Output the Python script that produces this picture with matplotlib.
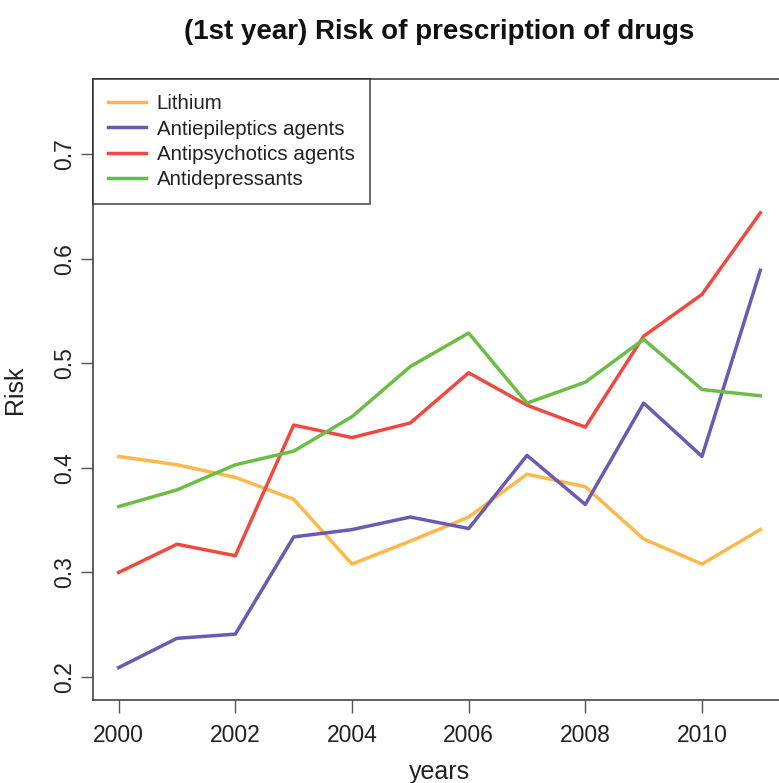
import matplotlib
matplotlib.use("Agg")
import matplotlib.pyplot as plt
import numpy as np

years = list(range(2000, 2012))
lithium = [0.411, 0.403, 0.391, 0.370, 0.308, 0.330, 0.353, 0.394, 0.382, 0.332, 0.308, 0.341]
antiepileptics = [0.209, 0.237, 0.241, 0.334, 0.341, 0.353, 0.342, 0.412, 0.365, 0.462, 0.411, 0.589]
antipsychotics = [0.300, 0.327, 0.316, 0.441, 0.429, 0.443, 0.491, 0.460, 0.439, 0.526, 0.566, 0.644]
antidepressants = [0.363, 0.379, 0.403, 0.416, 0.449, 0.497, 0.529, 0.462, 0.482, 0.523, 0.475, 0.469]

series_names = ["Lithium", "Antiepileptics agents", "Antipsychotics agents", "Antidepressants"]
colors = ["#FDB84A", "#6A5AB0", "#EF4A3F", "#6BBE45"]

plt.rcParams["font.family"] = ["Liberation Sans", "DejaVu Sans"]

fig = plt.figure(figsize=(7.79, 7.83), dpi=100)
ax = fig.add_axes([93 / 779, 1 - 700 / 783, 693 / 779, 621 / 783])

for vals, name, c in zip([lithium, antiepileptics, antipsychotics, antidepressants], series_names, colors):
    ax.plot(years, vals, color=c, lw=2.5, label=name, solid_joinstyle="round")

# R-style 4% axis extension
x0, x1 = 2000, 2011
ax.set_xlim(x0 - 0.04 * (x1 - x0), x1 + 0.04 * (x1 - x0))
y0, y1 = 0.2, 0.75
ax.set_ylim(y0 - 0.04 * (y1 - y0), y1 + 0.04 * (y1 - y0))

ax.set_xticks([2000, 2002, 2004, 2006, 2008, 2010])
ax.set_yticks([0.2, 0.3, 0.4, 0.5, 0.6, 0.7])
ax.set_yticklabels(["0.2", "0.3", "0.4", "0.5", "0.6", "0.7"], rotation=90, va="center")

for s in ax.spines.values():
    s.set_color("#444444")
    s.set_linewidth(1.2)
ax.tick_params(direction="out", length=9, width=1.0, color="#555555", labelsize=16.5,
               labelcolor="#222222")
ax.tick_params(axis="x", pad=8)
ax.tick_params(axis="y", pad=3)

ax.set_xlabel("years", fontsize=18, color="#222222", labelpad=10)
ax.set_ylabel("Risk", fontsize=18, color="#222222", labelpad=20)
ax.yaxis.set_label_coords(-(93 - 27) / 693, 0.5)
fig.text(439 / 779, 1 - 32 / 783, "(1st year) Risk of prescription of drugs",
         ha="center", va="center", fontsize=20, fontweight="bold", color="#111111")

leg = ax.legend(loc="upper left", bbox_to_anchor=(0, 1), borderaxespad=0, fontsize=14.8,
                fancybox=False, frameon=True, handlelength=1.85, handletextpad=0.5,
                labelspacing=0.3, borderpad=0.75)
leg.get_frame().set_edgecolor("#222222")
leg.get_frame().set_linewidth(1.2)
for t in leg.get_texts():
    t.set_color("#222222")

fig.savefig("out.png", dpi=100)
